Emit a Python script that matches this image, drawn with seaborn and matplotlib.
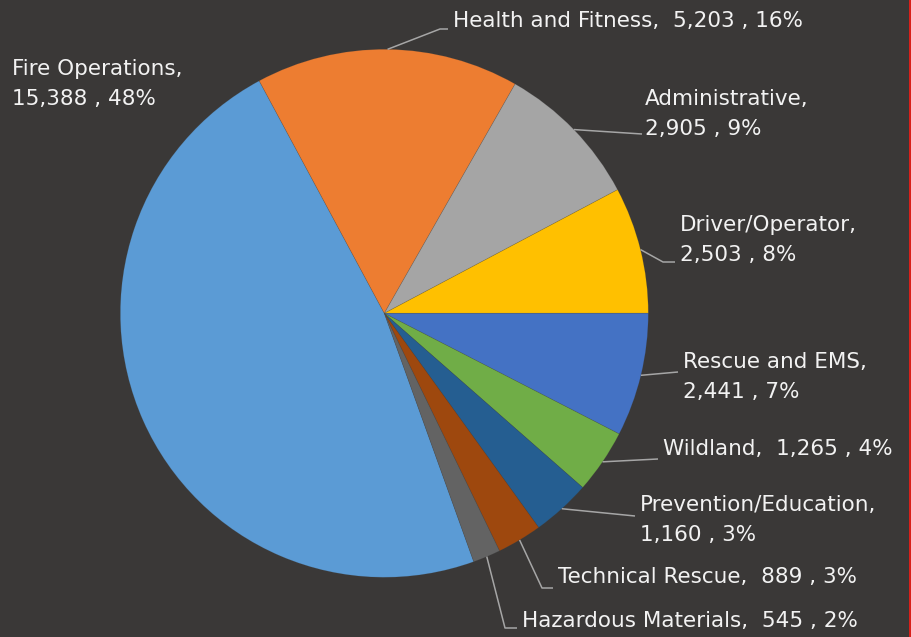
import numpy as np
import matplotlib
matplotlib.use("Agg")
import matplotlib.pyplot as plt
from matplotlib.patches import Rectangle
import seaborn as sns

# ---- data ----
categories = ["Fire Operations", "Health and Fitness", "Administrative", "Driver/Operator",
              "Rescue and EMS", "Wildland", "Prevention/Education", "Technical Rescue",
              "Hazardous Materials"]
values = [15388, 5203, 2905, 2503, 2441, 1265, 1160, 889, 545]
value_labels = ["15,388", "5,203", "2,905", "2,503", "2,441", "1,265", "1,160", "889", "545"]
pct_labels = ["48%", "16%", "9%", "8%", "7%", "4%", "3%", "3%", "2%"]
colors = ["#5B9BD5", "#ED7D31", "#A5A5A5", "#FFC000", "#4472C4", "#70AD47",
          "#255E91", "#9E480E", "#636363"]

# ---- layout (image pixel coordinates) ----
W, H = 911, 637
BG = "#3a3837"
CX, CY_IMG, R = 384.3, 313.3, 264
START = -70.2
two_line = [True, False, True, True, True, False, True, False, False]
# x of text, baseline y of first line
text_pos = [(12, 75), (453, 27), (645, 105), (680, 231), (683, 368),
            (663, 455), (640, 511), (558, 583), (522, 627)]
# leader points after the wedge edge (image coords)
leaders = [None,
           [(440, 29), (448, 29)],
           [(642, 134)],
           [(663, 262), (675, 262)],
           [(678, 372)],
           [(658, 459)],
           [(635, 516)],
           [(542, 588), (553, 588)],
           [(505, 628), (517, 628)]]
LINE_GAP = 30

sns.set_theme(style="dark", rc={"axes.facecolor": BG, "figure.facecolor": BG})
plt.rcParams['font.family'] = ['DejaVu Sans']

fig = plt.figure(figsize=(W / 100, H / 100), dpi=100)
ax = fig.add_axes([0, 0, 1, 1])
cy = H - CY_IMG
wedges, _ = ax.pie(values, colors=colors, startangle=START, counterclock=False,
                   center=(CX, cy), radius=R,
                   wedgeprops=dict(edgecolor=(0.25, 0.25, 0.25, 0.22), linewidth=0.5))
ax.set_xlim(0, W)
ax.set_ylim(0, H)
ax.set_aspect('equal')
ax.axis('off')

txt_kw = dict(color="#f2f2f2", fontsize=15.5, ha="left", va="baseline")
for i, cat in enumerate(categories):
    x, yb = text_pos[i]
    if two_line[i]:
        ax.text(x, H - yb, f"{cat},", **txt_kw)
        ax.text(x, H - yb - LINE_GAP, f"{value_labels[i]} , {pct_labels[i]}", **txt_kw)
    else:
        ax.text(x, H - yb, f"{cat},  {value_labels[i]} , {pct_labels[i]}", **txt_kw)
    if leaders[i] is not None:
        w = wedges[i]
        mid = np.deg2rad((w.theta1 + w.theta2) / 2)
        xs = [CX + R * np.cos(mid)] + [p[0] for p in leaders[i]]
        ys = [cy + R * np.sin(mid)] + [H - p[1] for p in leaders[i]]
        ax.plot(xs, ys, color="#a6a6a6", lw=1.1, solid_capstyle="butt")

# red frame edge at the right
fig.patches.append(Rectangle((909 / W, 0), 2 / W, 1, transform=fig.transFigure,
                             facecolor="#d8201a", edgecolor="none", zorder=10))

fig.savefig("out.png", dpi=100, facecolor=BG)
